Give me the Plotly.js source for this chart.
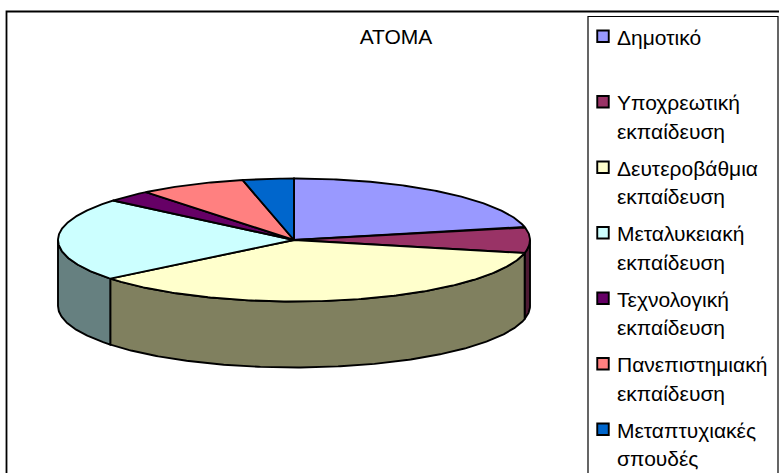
<!DOCTYPE html>
<html>
<head>
<meta charset="utf-8">
<script src="https://cdn.plot.ly/plotly-3.0.1.min.js"></script>
<style>html,body{margin:0;padding:0;background:#fff}#chart{width:779px;height:473px}</style>
</head>
<body>
<div id="chart"></div>
<script>
const categories = ["Δημοτικό","Υποχρεωτική εκπαίδευση","Δευτεροβάθμια εκπαίδευση","Μεταλυκειακή εκπαίδευση","Τεχνολογική εκπαίδευση","Πανεπιστημιακή εκπαίδευση","Μεταπτυχιακές σπουδές"];
const legendLabels = ["Δημοτικό<br>&nbsp;","Υποχρεωτική<br>εκπαίδευση","Δευτεροβάθμια<br>εκπαίδευση","Μεταλυκειακή<br>εκπαίδευση","Τεχνολογική<br>εκπαίδευση","Πανεπιστημιακή<br>εκπαίδευση","Μεταπτυχιακές<br>σπουδές"];
const values = [21.6,6.8,35.8,21.9,3.1,7.3,3.5];
const topColors = ["#9999FF","#993366","#FFFFCC","#CCFFFF","#660066","#FF8080","#0066CC"];
const sideColors = ["#4D4D80","#4D1A33","#80805F","#668080","#330033","#804040","#003366"];

const W = 779, H = 473, cx = 294, cy = 240, rx = 236, ry = 61.5, depthPx = 66;
const depth = depthPx / ry;
const total = values.reduce((a,b)=>a+b,0);
const toAngle = v => v / total * 2 * Math.PI;
const px = a => Math.sin(a);
const py = a => Math.cos(a);
const arc = (a0,a1) => { const n = Math.max(2,Math.ceil((a1-a0)/0.01)), out=[]; for(let i=0;i<=n;i++) out.push(a0+(a1-a0)*i/n); return out; };
const span = s => '<span style="font-size:21px">'+s+'</span>';

const sideTraces = [], topTraces = [], legendTraces = [];
let cum = 0;
values.forEach((v,i)=>{
  const a0 = toAngle(cum), a1 = toAngle(cum+v); cum += v;
  const s0 = Math.max(a0, Math.PI/2), s1 = Math.min(a1, 3*Math.PI/2);
  if (s1 > s0) {
    const as = arc(s0,s1);
    const xs = as.map(px), ys = as.map(py);
    sideTraces.push({type:"scatter",mode:"lines",fill:"toself",fillcolor:sideColors[i],line:{color:"#000",width:1.9},showlegend:false,hoverinfo:"skip",
      x:[...xs,...xs.slice().reverse(),xs[0]],
      y:[...ys,...ys.slice().reverse().map(y=>y-depth),ys[0]]});
  }
  const as = arc(a0,a1);
  topTraces.push({type:"scatter",mode:"lines",fill:"toself",fillcolor:topColors[i],line:{color:"#000",width:1.9},showlegend:false,name:categories[i],
    x:[0,...as.map(px),0], y:[0,...as.map(py),0]});
  legendTraces.push({type:"scatter",mode:"markers",x:[null],y:[null],legendgroup:"g"+i,
    name:legendLabels[i].split("<br>").map(span).join("<br>"),
    marker:{symbol:"square",size:11.5,color:topColors[i],line:{color:"#000",width:1.9}}});
});

const layout = {
  width:W,height:H,margin:{l:0,r:0,t:0,b:0},paper_bgcolor:"#fff",plot_bgcolor:"#fff",
  font:{family:"Liberation Sans, Arial, sans-serif",color:"#000"},
  title:{text:"ΑΤΟΜΑ",font:{size:21,color:"#000"},x:396/W,xanchor:"center",y:1-37/H,yanchor:"middle",xref:"paper",yref:"paper"},
  xaxis:{range:[-cx/rx,(W-cx)/rx],visible:false,fixedrange:true},
  yaxis:{range:[(cy-H)/ry,cy/ry],visible:false,fixedrange:true},
  legend:{x:577/W,xanchor:"left",y:1-43/H,yanchor:"top",traceorder:"grouped",tracegroupgap:5.3,valign:"top",maxheight:700,
    font:{size:22,family:"Liberation Sans, Arial, sans-serif",color:"#000"},bgcolor:"rgba(0,0,0,0)",borderwidth:0,itemclick:false,itemdoubleclick:false},
  shapes:[
    {type:"rect",xref:"paper",yref:"paper",x0:6.5/W,x1:1.01,y0:-0.02,y1:1-11.5/H,line:{color:"#000",width:1.8},fillcolor:"rgba(0,0,0,0)",layer:"below"},
    {type:"rect",xref:"paper",yref:"paper",x0:588/W,x1:778/W,y0:-0.02,y1:1-16.5/H,line:{color:"#000",width:1.2},fillcolor:"rgba(0,0,0,0)",layer:"below"}
  ]
};
Plotly.newPlot("chart",[...sideTraces,...topTraces,...legendTraces],layout,{displayModeBar:false}).then(gd=>{
  gd.querySelectorAll(".legend .legendsymbols").forEach(n=>n.setAttribute("transform","translate(6,0)"));
  const lg = gd.querySelector(".legend");
  const m = /translate\(([-\d.]+)[ ,]+([-\d.]+)\)/.exec(lg.getAttribute("transform"));
  if (m) lg.setAttribute("transform","translate("+m[1]+","+(parseFloat(m[2])+6.5)+")");
});
</script>
</body>
</html>
